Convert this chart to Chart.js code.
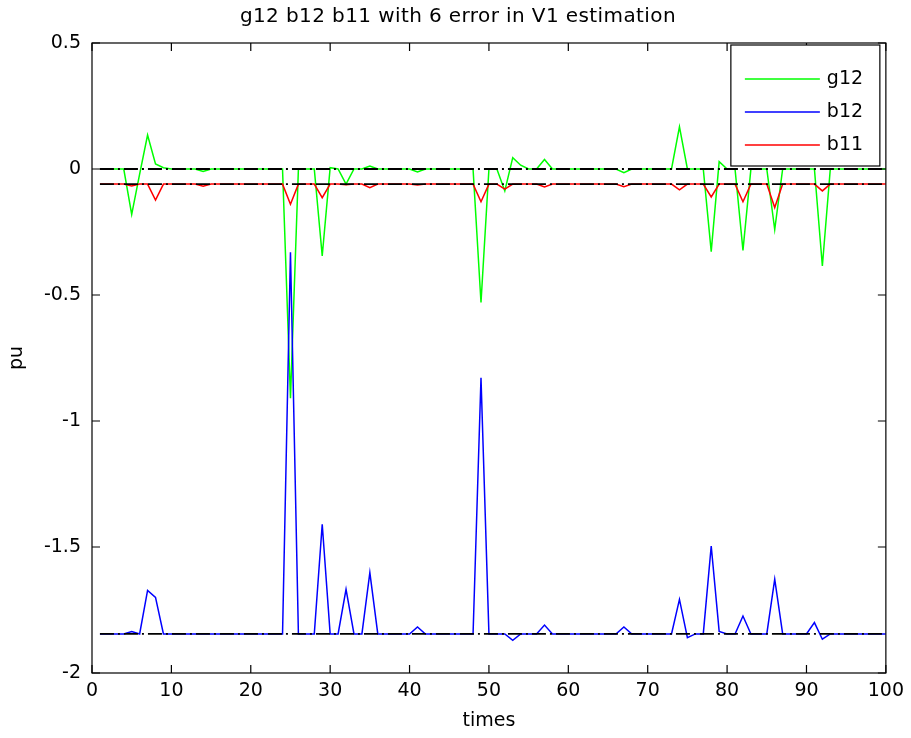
<!DOCTYPE html>
<html>
<head>
<meta charset="utf-8">
<script src="https://cdn.jsdelivr.net/npm/chart.js@4.4.0/dist/chart.umd.min.js"></script>
<style>
  html, body { margin: 0; padding: 0; background: #fff; }
  #wrap { width: 911px; height: 738px; }
</style>
</head>
<body>
<div id="wrap"><canvas id="myChart"></canvas></div>
<script>
// sample index 1..100
const times = Array.from({ length: 100 }, (_, i) => i + 1);

const g12 = [
  0, 0, 0, 0, -0.18, -0.02, 0.135, 0.02, 0.005, 0,
  0, 0, 0, -0.01, 0, 0, 0, 0, 0, 0,
  0, 0, 0, 0, -0.91, 0, 0, 0, -0.345, 0.005,
  0, -0.06, 0, 0, 0.012, 0, 0, 0, 0, 0,
  -0.012, 0, 0, 0, 0, 0, 0, 0, -0.53, 0,
  0, -0.087, 0.045, 0.015, 0, 0, 0.038, 0, 0, 0,
  0, 0, 0, 0, 0, 0, -0.015, 0, 0, 0,
  0, 0, 0, 0.167, 0, 0, 0, -0.328, 0.029, 0,
  0, -0.323, 0, 0, 0, -0.24, 0, 0, 0, 0,
  0, -0.385, 0, 0, 0, 0, 0, 0, 0, 0
];

const b12 = [
  -1.845, -1.845, -1.845, -1.845, -1.835, -1.845, -1.672, -1.70, -1.845, -1.845,
  -1.845, -1.845, -1.845, -1.845, -1.845, -1.845, -1.845, -1.845, -1.845, -1.845,
  -1.845, -1.845, -1.845, -1.845, -0.33, -1.845, -1.845, -1.845, -1.41, -1.845,
  -1.845, -1.668, -1.845, -1.845, -1.602, -1.845, -1.845, -1.845, -1.845, -1.845,
  -1.817, -1.845, -1.845, -1.845, -1.845, -1.845, -1.845, -1.845, -0.828, -1.845,
  -1.845, -1.845, -1.87, -1.845, -1.845, -1.845, -1.81, -1.845, -1.845, -1.845,
  -1.845, -1.845, -1.845, -1.845, -1.845, -1.845, -1.817, -1.845, -1.845, -1.845,
  -1.845, -1.845, -1.845, -1.708, -1.86, -1.845, -1.845, -1.496, -1.835, -1.845,
  -1.845, -1.774, -1.845, -1.845, -1.845, -1.628, -1.845, -1.845, -1.845, -1.845,
  -1.80, -1.866, -1.845, -1.845, -1.845, -1.845, -1.845, -1.845, -1.845, -1.845
];

const b11 = [
  -0.06, -0.06, -0.06, -0.06, -0.067, -0.06, -0.06, -0.123, -0.06, -0.06,
  -0.06, -0.06, -0.06, -0.068, -0.06, -0.06, -0.06, -0.06, -0.06, -0.06,
  -0.06, -0.06, -0.06, -0.06, -0.14, -0.06, -0.06, -0.06, -0.114, -0.06,
  -0.06, -0.062, -0.06, -0.06, -0.074, -0.06, -0.06, -0.06, -0.06, -0.06,
  -0.063, -0.06, -0.06, -0.06, -0.06, -0.06, -0.06, -0.06, -0.13, -0.06,
  -0.06, -0.08, -0.06, -0.06, -0.06, -0.06, -0.071, -0.06, -0.06, -0.06,
  -0.06, -0.06, -0.06, -0.06, -0.06, -0.06, -0.07, -0.06, -0.06, -0.06,
  -0.06, -0.06, -0.06, -0.083, -0.06, -0.06, -0.06, -0.111, -0.06, -0.06,
  -0.06, -0.13, -0.06, -0.06, -0.06, -0.153, -0.06, -0.06, -0.06, -0.06,
  -0.06, -0.087, -0.06, -0.06, -0.06, -0.06, -0.06, -0.06, -0.06, -0.06
];

// true values (black dash-dot lines)
const trueLevels = [0, -0.06, -1.845];

const xTicks = [0, 10, 20, 30, 40, 50, 60, 70, 80, 90, 100];
const yTicks = [-2, -1.5, -1, -0.5, 0, 0.5];

const series = [
  { label: 'g12', data: g12, color: '#00ff00' },
  { label: 'b12', data: b12, color: '#0000ff' },
  { label: 'b11', data: b11, color: '#ff0000' }
];

const chartTitle = 'g12 b12 b11 with 6 error in V1 estimation';
const FONT = 'DejaVu Sans';

function pts(vals) {
  return vals.map((v, i) => ({ x: times[i], y: v }));
}

const datasets = [];
trueLevels.forEach(v => {
  datasets.push({
    label: 'true',
    data: [{ x: times[0], y: v }, { x: times[times.length - 1], y: v }],
    borderColor: '#000',
    borderWidth: 1.8,
    borderDash: [14, 4, 2, 4],
    pointRadius: 0,
    order: 0
  });
});
series.forEach((s, i) => {
  datasets.push({
    label: s.label,
    data: pts(s.data),
    borderColor: s.color,
    borderWidth: 1.5,
    pointRadius: 0,
    tension: 0,
    order: 3 - i
  });
});

const boxPlugin = {
  id: 'boxPlugin',
  afterDraw(chart) {
    const ctx = chart.ctx;
    const a = chart.chartArea;
    const x = chart.scales.x, y = chart.scales.y;
    ctx.save();
    ctx.strokeStyle = '#000';
    ctx.lineWidth = 1.2;
    ctx.strokeRect(a.left, a.top, a.right - a.left, a.bottom - a.top);
    ctx.beginPath();
    xTicks.forEach(t => {
      const px = x.getPixelForValue(t);
      ctx.moveTo(px, a.bottom); ctx.lineTo(px, a.bottom - 8);
      ctx.moveTo(px, a.top); ctx.lineTo(px, a.top + 8);
    });
    yTicks.forEach(t => {
      const py = y.getPixelForValue(t);
      ctx.moveTo(a.left, py); ctx.lineTo(a.left + 8, py);
      ctx.moveTo(a.right, py); ctx.lineTo(a.right - 8, py);
    });
    ctx.stroke();

    // legend box, top right inside plot
    const bx = a.right - 155, by = a.top + 2, bw = 149, bh = 121;
    ctx.fillStyle = '#fff';
    ctx.fillRect(bx, by, bw, bh);
    ctx.strokeRect(bx, by, bw, bh);
    ctx.font = '19px "' + FONT + '"';
    ctx.textBaseline = 'middle';
    series.forEach((s, i) => {
      const ly = by + 34 + i * 33;
      ctx.strokeStyle = s.color;
      ctx.lineWidth = 1.5;
      ctx.beginPath();
      ctx.moveTo(bx + 14, ly);
      ctx.lineTo(bx + 89, ly);
      ctx.stroke();
      ctx.fillStyle = '#000';
      ctx.fillText(s.label, bx + 96, ly);
    });

    // title, a bit right of the plot centre like the original
    ctx.font = '20px "' + FONT + '"';
    if ('letterSpacing' in ctx) ctx.letterSpacing = '0.4px';
    ctx.textAlign = 'center';
    ctx.fillText(chartTitle, (a.left + a.right) / 2 - 31, 17);
    ctx.restore();
  }
};

const ctx = document.getElementById('myChart');
new Chart(ctx, {
  type: 'line',
  data: { datasets: datasets },
  options: {
    responsive: true,
    maintainAspectRatio: false,
    animation: false,
    layout: { padding: { left: 0, right: 25, top: 43, bottom: 0 } },
    plugins: {
      legend: { display: false },
      tooltip: { enabled: false },
      title: { display: false }
    },
    scales: {
      x: {
        type: 'linear',
        min: 0,
        max: 100,
        afterBuildTicks: s => { s.ticks = xTicks.map(v => ({ value: v })); },
        ticks: { color: '#000', font: { family: FONT, size: 19 }, padding: 7, maxRotation: 0 },
        grid: { display: false, tickLength: 0 },
        border: { display: false },
        title: { display: true, text: 'times', color: '#000', font: { family: FONT, size: 19 }, padding: { top: 0, bottom: 6 } },
        afterFit: s => { s.height = 65; }
      },
      y: {
        type: 'linear',
        min: -2,
        max: 0.5,
        afterBuildTicks: s => { s.ticks = yTicks.map(v => ({ value: v })); },
        ticks: { color: '#000', font: { family: FONT, size: 19 }, padding: 11, callback: v => String(v) },
        grid: { display: false, tickLength: 0 },
        border: { display: false },
        title: { display: true, text: 'pu', color: '#000', font: { family: FONT, size: 19 }, padding: { top: 6, bottom: 0 } },
        afterFit: s => { s.width = 92; }
      }
    }
  },
  plugins: [boxPlugin]
});
</script>
</body>
</html>
